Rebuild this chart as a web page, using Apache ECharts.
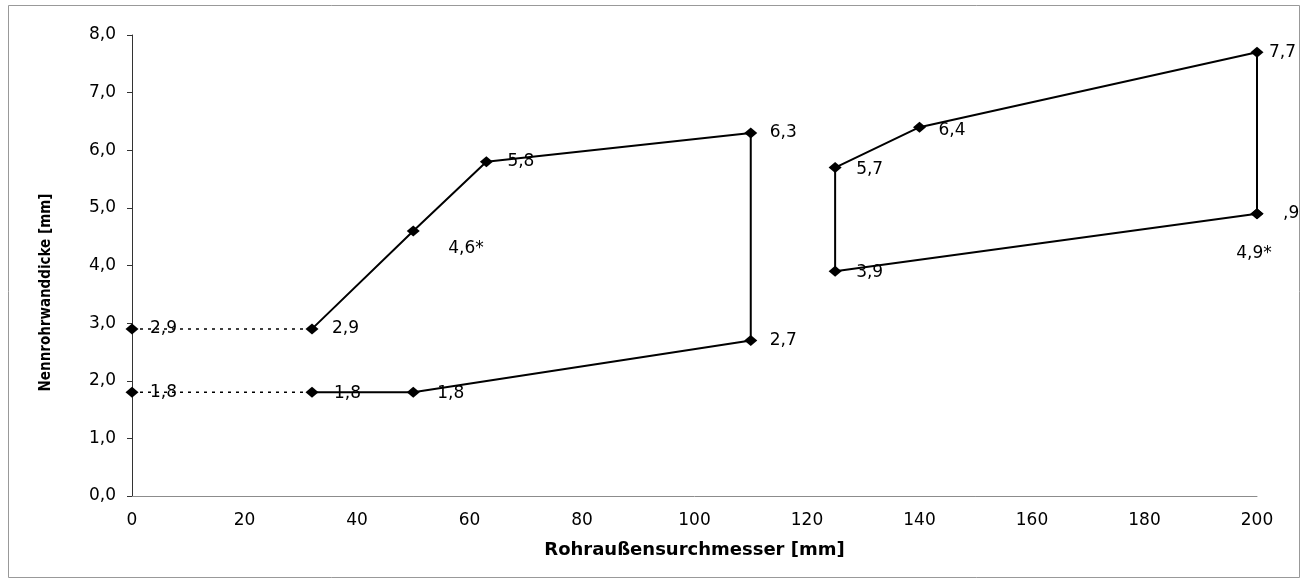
<!DOCTYPE html>
<html><head><meta charset="utf-8">
<script src="https://cdn.jsdelivr.net/npm/echarts@6/dist/echarts.min.js"></script>
<style>html,body{margin:0;padding:0;background:#fff}#c{width:1309px;height:583px}</style>
</head><body><div id="c"></div>
<script>
// ---- data ----
const xTickLabels = ["0","20","40","60","80","100","120","140","160","180","200"];
const yTickLabels = ["0,0","1,0","2,0","3,0","4,0","5,0","6,0","7,0","8,0"];
const dottedTop = [[0,2.9],[32,2.9]];
const dottedBottom = [[0,1.8],[32,1.8]];
const polyA = [[32,2.9],[50,4.6],[63,5.8],[110,6.3],[110,2.7],[50,1.8],[32,1.8]];
const polyB = [[125,5.7],[140,6.4],[200,7.7],[200,4.9],[125,3.9],[125,5.7]];
const pointX = [0,32,0,32,50,50,63,110,110,125,140,200,200,125];
const pointY = [2.9,2.9,1.8,1.8,1.8,4.6,5.8,6.3,2.7,5.7,6.4,7.7,4.9,3.9];
const pointLabel = ["2,9","2,9","1,8","1,8","1,8","4,6*","5,8","6,3","2,7","5,7","6,4","7,7",",9","3,9"];
const noteX = [200];
const noteY = [4.9];
const noteLabel = ["4,9*"];

// ---- styles (label offsets in px) ----
const labelOffsets = [[18,0],[20,0],[18,0],[22,1],[24,1],[35,18],[21,0],[19,0],[19,0],[21,2],[19,3],[12,0],[26,0],[21,1]];
const noteOffsets = [[-3,40]];

const FONT = "DejaVu Sans, Verdana, sans-serif";
const chart = echarts.init(document.getElementById('c'), null, {renderer:'canvas'});

const lineBase = {type:'line', symbol:'none', silent:true, animation:false, z:2};
const labelStyle = {fontFamily:FONT, fontSize:17, color:'#000', textBorderWidth:0, textShadowBlur:0};
const option = {
  animation:false,
  backgroundColor:'#fff',
  grid:{left:132, right:52, top:35, bottom:87},
  xAxis:{
    type:'value', min:0, max:200, interval:20,
    name:'Rohraußensurchmesser [mm]', nameLocation:'middle', nameGap:45,
    nameTextStyle:{fontFamily:FONT, fontWeight:'bold', fontSize:18, color:'#000'},
    axisLine:{show:true, lineStyle:{color:'#8c8c8c', width:1}},
    axisTick:{show:false},
    axisLabel:{fontFamily:FONT, fontSize:17, color:'#000', margin:16,
      formatter:(v)=>xTickLabels[Math.round(v/20)]},
    splitLine:{show:false}
  },
  yAxis:{
    type:'value', min:0, max:8, interval:1,
    name:'Nennrohrwanddicke [mm]', nameLocation:'middle', nameGap:78, nameRotate:90,
    nameTextStyle:{fontFamily:'DejaVu Sans Condensed, DejaVu Sans', fontWeight:'bold', fontSize:15, color:'#000', padding:[0,54,0,0]},
    axisLine:{show:true, lineStyle:{color:'#333', width:1}},
    axisTick:{show:true, inside:false, length:5, lineStyle:{color:'#333'}},
    axisLabel:{fontFamily:FONT, fontSize:17, color:'#000', margin:16,
      formatter:(v)=>yTickLabels[Math.round(v)]},
    splitLine:{show:false}
  },
  graphic:[{type:'rect', shape:{x:8.5, y:5.5, width:1291, height:572}, style:{fill:null, stroke:'#999', lineWidth:1}, silent:true, z:-1}],
  series:[
    Object.assign({}, lineBase, {data:dottedTop, lineStyle:{color:'#000', width:1.5, type:[3,5]}}),
    Object.assign({}, lineBase, {data:dottedBottom, lineStyle:{color:'#000', width:1.5, type:[3,5]}}),
    Object.assign({}, lineBase, {data:polyA, lineStyle:{color:'#000', width:2}}),
    Object.assign({}, lineBase, {data:polyB, lineStyle:{color:'#000', width:2}}),
    {
      type:'scatter', symbol:'diamond', symbolSize:[13,11], z:5, silent:true, animation:false,
      itemStyle:{color:'#000', opacity:1},
      data: pointX.map((x,i)=>({
        value:[x, pointY[i]],
        label:Object.assign({show:true, position:'inside', align:'left', verticalAlign:'middle',
          offset:labelOffsets[i], formatter:pointLabel[i]}, labelStyle)
      }))
    },
    {
      type:'scatter', symbol:'diamond', symbolSize:[13,11], z:4, silent:true, animation:false,
      itemStyle:{color:'#000', opacity:1},
      data: noteX.map((x,i)=>({
        value:[x, noteY[i]],
        label:Object.assign({show:true, position:'inside', align:'center', verticalAlign:'middle',
          offset:noteOffsets[i], formatter:noteLabel[i]}, labelStyle)
      }))
    }
  ]
};
chart.setOption(option);
</script>
</body></html>
